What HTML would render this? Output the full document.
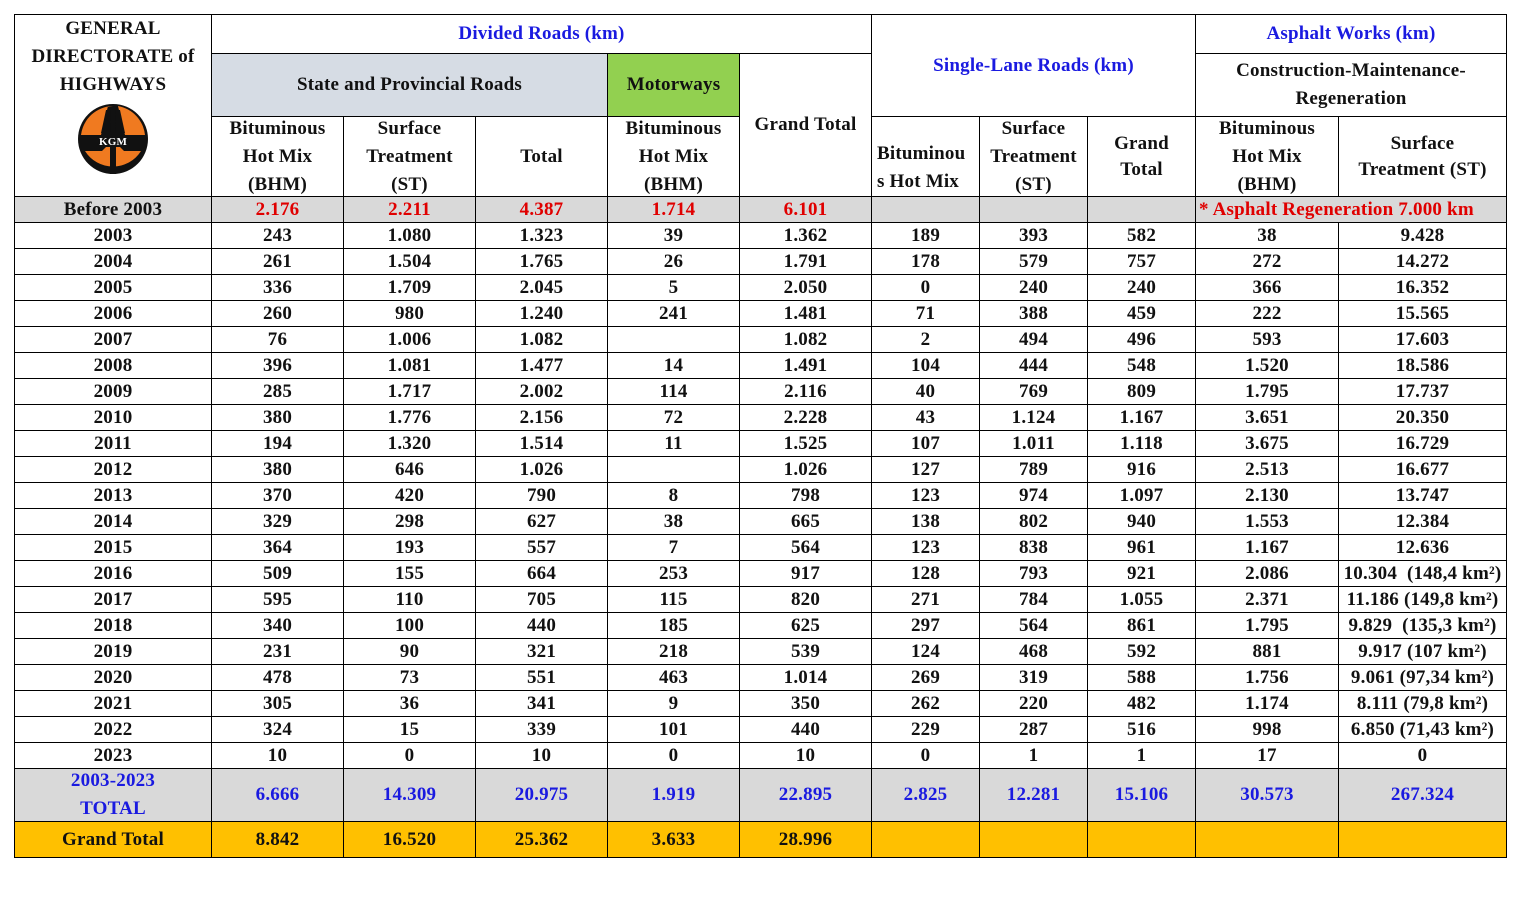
<!DOCTYPE html>
<html><head><meta charset="utf-8"><style>
body{margin:0;background:#fff;width:1537px;height:914px;overflow:hidden}
table{position:absolute;left:14px;top:14px;border-collapse:collapse;table-layout:fixed;font-family:"Liberation Serif",serif;font-weight:bold;font-size:19px;letter-spacing:0.2px;color:#111}
td{border:1px solid #000;text-align:center;padding:0;line-height:28px;overflow:hidden;white-space:nowrap}
.b{color:#1a1ae0}.r{color:#e00000}
.g td{background:#d9d9d9}
tr.d td{height:25px;line-height:25px}
.h3 td{line-height:26px}
.h3 td div{line-height:28px;margin:-3px 0;height:80px;display:flex;flex-direction:column;justify-content:center}
.w{white-space:normal}
</style></head><body>
<table>
<colgroup><col style="width:197px"><col style="width:132px"><col style="width:132px"><col style="width:132px"><col style="width:132px"><col style="width:132px"><col style="width:108px"><col style="width:108px"><col style="width:108px"><col style="width:143px"><col style="width:168px"></colgroup>
<tr style="height:39px"><td rowspan="3" class="w" style="vertical-align:top;line-height:28px;padding-top:0">GENERAL<br>DIRECTORATE of<br>HIGHWAYS<br>
<svg width="72" height="76" viewBox="0 0 72 76" style="margin-top:2px"><circle cx="36" cy="38" r="35" fill="#111"/><path d="M36 5 A33 33 0 0 0 4 34 L24 34 L31 5Z M41 5 A33 33 0 0 1 68 34 L48 34 Z" fill="#f07a20"/><path d="M29 9 L34 9 L33 32 L24 32Z M38 9 L43 9 L48 32 L39 32Z" fill="#111"/><path d="M8 50 L25 50 L29 46 L43 46 L47 50 L64 50 A33 33 0 0 1 8 50Z" fill="#f07a20"/><rect x="33" y="46" width="6" height="27" fill="#111"/><text x="36" y="44" font-size="11" fill="#fff" text-anchor="middle" font-family="Liberation Serif" font-weight="bold">KGM</text></svg></td>
<td colspan="5" class="b">Divided Roads (km)</td><td colspan="3" rowspan="2" class="b">Single-Lane Roads (km)</td><td colspan="2" class="b">Asphalt Works (km)</td></tr>
<tr style="height:63px"><td colspan="3" style="background:#d6dce4">State and Provincial Roads</td><td style="background:#92d050">Motorways</td><td rowspan="2">Grand Total</td><td colspan="2" class="w">Construction-Maintenance-<br>Regeneration</td></tr>
<tr class="h3" style="height:80px"><td><div><span>Bituminous</span><span>Hot Mix</span><span>(BHM)</span></div></td><td><div><span>Surface</span><span>Treatment</span><span>(ST)</span></div></td><td>Total</td><td><div><span>Bituminous</span><span>Hot Mix</span><span>(BHM)</span></div></td><td style="text-align:left;vertical-align:bottom;padding-left:5px;line-height:28px">Bituminou<br>s Hot Mix</td><td><div><span>Surface</span><span>Treatment</span><span>(ST)</span></div></td><td>Grand<br>Total</td><td><div><span>Bituminous</span><span>Hot Mix</span><span>(BHM)</span></div></td><td>Surface<br>Treatment (ST)</td></tr>
<tr class="d g"><td>Before 2003</td><td class="r">2.176</td><td class="r">2.211</td><td class="r">4.387</td><td class="r">1.714</td><td class="r">6.101</td><td></td><td></td><td></td><td colspan="2" class="r" style="text-align:left;padding-left:3px">* Asphalt Regeneration 7.000 km</td></tr>
<tr class="d"><td>2003</td><td>243</td><td>1.080</td><td>1.323</td><td>39</td><td>1.362</td><td>189</td><td>393</td><td>582</td><td>38</td><td>9.428</td></tr>
<tr class="d"><td>2004</td><td>261</td><td>1.504</td><td>1.765</td><td>26</td><td>1.791</td><td>178</td><td>579</td><td>757</td><td>272</td><td>14.272</td></tr>
<tr class="d"><td>2005</td><td>336</td><td>1.709</td><td>2.045</td><td>5</td><td>2.050</td><td>0</td><td>240</td><td>240</td><td>366</td><td>16.352</td></tr>
<tr class="d"><td>2006</td><td>260</td><td>980</td><td>1.240</td><td>241</td><td>1.481</td><td>71</td><td>388</td><td>459</td><td>222</td><td>15.565</td></tr>
<tr class="d"><td>2007</td><td>76</td><td>1.006</td><td>1.082</td><td></td><td>1.082</td><td>2</td><td>494</td><td>496</td><td>593</td><td>17.603</td></tr>
<tr class="d"><td>2008</td><td>396</td><td>1.081</td><td>1.477</td><td>14</td><td>1.491</td><td>104</td><td>444</td><td>548</td><td>1.520</td><td>18.586</td></tr>
<tr class="d"><td>2009</td><td>285</td><td>1.717</td><td>2.002</td><td>114</td><td>2.116</td><td>40</td><td>769</td><td>809</td><td>1.795</td><td>17.737</td></tr>
<tr class="d"><td>2010</td><td>380</td><td>1.776</td><td>2.156</td><td>72</td><td>2.228</td><td>43</td><td>1.124</td><td>1.167</td><td>3.651</td><td>20.350</td></tr>
<tr class="d"><td>2011</td><td>194</td><td>1.320</td><td>1.514</td><td>11</td><td>1.525</td><td>107</td><td>1.011</td><td>1.118</td><td>3.675</td><td>16.729</td></tr>
<tr class="d"><td>2012</td><td>380</td><td>646</td><td>1.026</td><td></td><td>1.026</td><td>127</td><td>789</td><td>916</td><td>2.513</td><td>16.677</td></tr>
<tr class="d"><td>2013</td><td>370</td><td>420</td><td>790</td><td>8</td><td>798</td><td>123</td><td>974</td><td>1.097</td><td>2.130</td><td>13.747</td></tr>
<tr class="d"><td>2014</td><td>329</td><td>298</td><td>627</td><td>38</td><td>665</td><td>138</td><td>802</td><td>940</td><td>1.553</td><td>12.384</td></tr>
<tr class="d"><td>2015</td><td>364</td><td>193</td><td>557</td><td>7</td><td>564</td><td>123</td><td>838</td><td>961</td><td>1.167</td><td>12.636</td></tr>
<tr class="d"><td>2016</td><td>509</td><td>155</td><td>664</td><td>253</td><td>917</td><td>128</td><td>793</td><td>921</td><td>2.086</td><td>10.304&nbsp; (148,4 km²)</td></tr>
<tr class="d"><td>2017</td><td>595</td><td>110</td><td>705</td><td>115</td><td>820</td><td>271</td><td>784</td><td>1.055</td><td>2.371</td><td>11.186 (149,8 km²)</td></tr>
<tr class="d"><td>2018</td><td>340</td><td>100</td><td>440</td><td>185</td><td>625</td><td>297</td><td>564</td><td>861</td><td>1.795</td><td>9.829&nbsp; (135,3 km²)</td></tr>
<tr class="d"><td>2019</td><td>231</td><td>90</td><td>321</td><td>218</td><td>539</td><td>124</td><td>468</td><td>592</td><td>881</td><td>9.917 (107 km²)</td></tr>
<tr class="d"><td>2020</td><td>478</td><td>73</td><td>551</td><td>463</td><td>1.014</td><td>269</td><td>319</td><td>588</td><td>1.756</td><td>9.061 (97,34 km²)</td></tr>
<tr class="d"><td>2021</td><td>305</td><td>36</td><td>341</td><td>9</td><td>350</td><td>262</td><td>220</td><td>482</td><td>1.174</td><td>8.111 (79,8 km²)</td></tr>
<tr class="d"><td>2022</td><td>324</td><td>15</td><td>339</td><td>101</td><td>440</td><td>229</td><td>287</td><td>516</td><td>998</td><td>6.850 (71,43 km²)</td></tr>
<tr class="d"><td>2023</td><td>10</td><td>0</td><td>10</td><td>0</td><td>10</td><td>0</td><td>1</td><td>1</td><td>17</td><td>0</td></tr>
<tr class="g b" style="height:52px"><td class="b" style="line-height:28px"><div style="margin:-2px 0">2003-2023<br>TOTAL</div></td><td class="b">6.666</td><td class="b">14.309</td><td class="b">20.975</td><td class="b">1.919</td><td class="b">22.895</td><td class="b">2.825</td><td class="b">12.281</td><td class="b">15.106</td><td class="b">30.573</td><td class="b">267.324</td></tr>
<tr style="height:36px;background:#ffc000"><td>Grand Total</td><td>8.842</td><td>16.520</td><td>25.362</td><td>3.633</td><td>28.996</td><td></td><td></td><td></td><td></td><td></td></tr>
</table>
</body></html>
